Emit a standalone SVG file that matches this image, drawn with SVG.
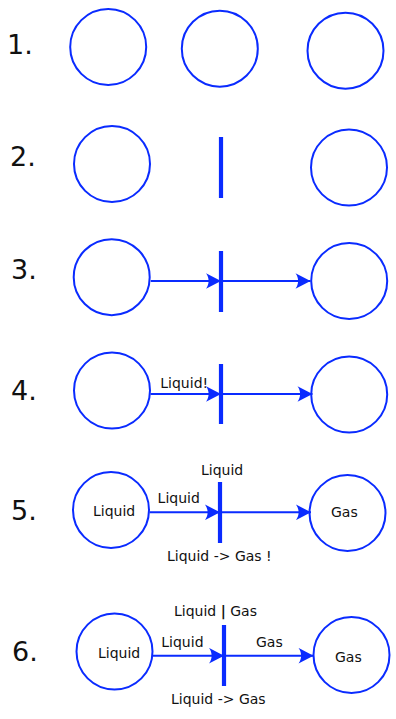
<svg xmlns="http://www.w3.org/2000/svg" width="396" height="719" viewBox="0 0 396 719">
  <style>
    .place { fill: #ffffff; stroke: #0a2bff; stroke-width: 2; }
    .trans { stroke: #0a2bff; stroke-width: 4.2; }
    .arc { fill: none; stroke: #0a2bff; stroke-width: 2; marker-end: url(#head); }
    .num { font-family: "DejaVu Sans", sans-serif; font-size: 27px; fill: #111111; }
    .lbl { font-family: "DejaVu Sans", sans-serif; font-size: 14px; fill: #111111; }
  </style>
  <defs>
    <!-- concave-backed arrowhead, tip sits on the path end -->
    <marker id="head" viewBox="-16 -8 17 16" refX="0" refY="0" markerWidth="17" markerHeight="16" markerUnits="userSpaceOnUse" orient="auto">
      <path d="M0,0 L-15,-7.8 C-11.5,-3 -11.5,3 -15,7.8 Z" fill="#0a2bff"/>
    </marker>
  </defs>

  <!-- step numbers -->
  <g id="step-numbers">
    <text class="num" x="7" y="54">1.</text>
    <text class="num" x="10" y="166">2.</text>
    <text class="num" x="11" y="279">3.</text>
    <text class="num" x="11" y="400">4.</text>
    <text class="num" x="11" y="520">5.</text>
    <text class="num" x="12" y="661">6.</text>
  </g>

  <!-- step 1: three places -->
  <g id="s1-p1"><circle class="place" cx="108.2" cy="47" r="38"/></g>
  <g id="s1-p2"><circle class="place" cx="219.8" cy="48.7" r="38"/></g>
  <g id="s1-p3"><circle class="place" cx="345.5" cy="50.7" r="38"/></g>

  <!-- step 2: place, transition, place -->
  <g id="s2-p1"><circle class="place" cx="112" cy="164" r="38"/></g>
  <g id="s2-t"><line class="trans" x1="221" y1="137" x2="221" y2="198"/></g>
  <g id="s2-p2"><circle class="place" cx="349" cy="167.5" r="38"/></g>

  <!-- step 3 -->
  <g id="s3-p1"><circle class="place" cx="111.7" cy="277.2" r="38"/></g>
  <g id="s3-t"><line class="trans" x1="221" y1="251" x2="221" y2="312"/></g>
  <g id="s3-p2"><circle class="place" cx="349.2" cy="281" r="38"/></g>

  <!-- step 4 -->
  <g id="s4-p1"><circle class="place" cx="112" cy="390.5" r="38"/></g>
  <g id="s4-t"><line class="trans" x1="221" y1="364" x2="221" y2="424"/></g>
  <g id="s4-p2"><circle class="place" cx="349.2" cy="394.5" r="38"/></g>

  <!-- step 5 -->
  <g id="s5-p1">
    <circle class="place" cx="111" cy="510" r="38"/>
    <text class="lbl" x="93" y="516">Liquid</text>
  </g>
  <g id="s5-t">
    <line class="trans" x1="220" y1="482" x2="220" y2="543"/>
    <text class="lbl" x="201" y="475">Liquid</text>
    <text class="lbl" x="167" y="561">Liquid -&gt; Gas !</text>
  </g>
  <g id="s5-p2">
    <circle class="place" cx="347.5" cy="513" r="38"/>
    <text class="lbl" x="331" y="517">Gas</text>
  </g>

  <!-- step 6 -->
  <g id="s6-p1">
    <circle class="place" cx="114.5" cy="651.5" r="38"/>
    <text class="lbl" x="98" y="658">Liquid</text>
  </g>
  <g id="s6-t">
    <line class="trans" x1="224" y1="625" x2="224" y2="686"/>
    <text class="lbl" x="174" y="616">Liquid <tspan font-weight="bold">|</tspan> Gas</text>
    <text class="lbl" x="171" y="704">Liquid -&gt; Gas</text>
  </g>
  <g id="s6-p2">
    <circle class="place" cx="351.5" cy="655" r="38"/>
    <text class="lbl" x="335" y="662">Gas</text>
  </g>

  <!-- connectors -->
  <g id="connectors">
    <path class="arc" d="M150.7,281 H221"/>
    <path class="arc" d="M221,281 H310.5"/>

    <path class="arc" d="M150.5,394 H221"/>
    <path class="arc" d="M221,394 H312.5"/>
    <text class="lbl" x="160.3" y="388">Liquid!</text>

    <path class="arc" d="M149.5,512.3 H220"/>
    <path class="arc" d="M220,512.3 H311"/>
    <text class="lbl" x="157.6" y="503">Liquid</text>

    <path class="arc" d="M153,655.7 H224"/>
    <path class="arc" d="M224,655.7 H313.5"/>
    <text class="lbl" x="161.3" y="647">Liquid</text>
    <text class="lbl" x="256" y="647">Gas</text>
  </g>
</svg>
